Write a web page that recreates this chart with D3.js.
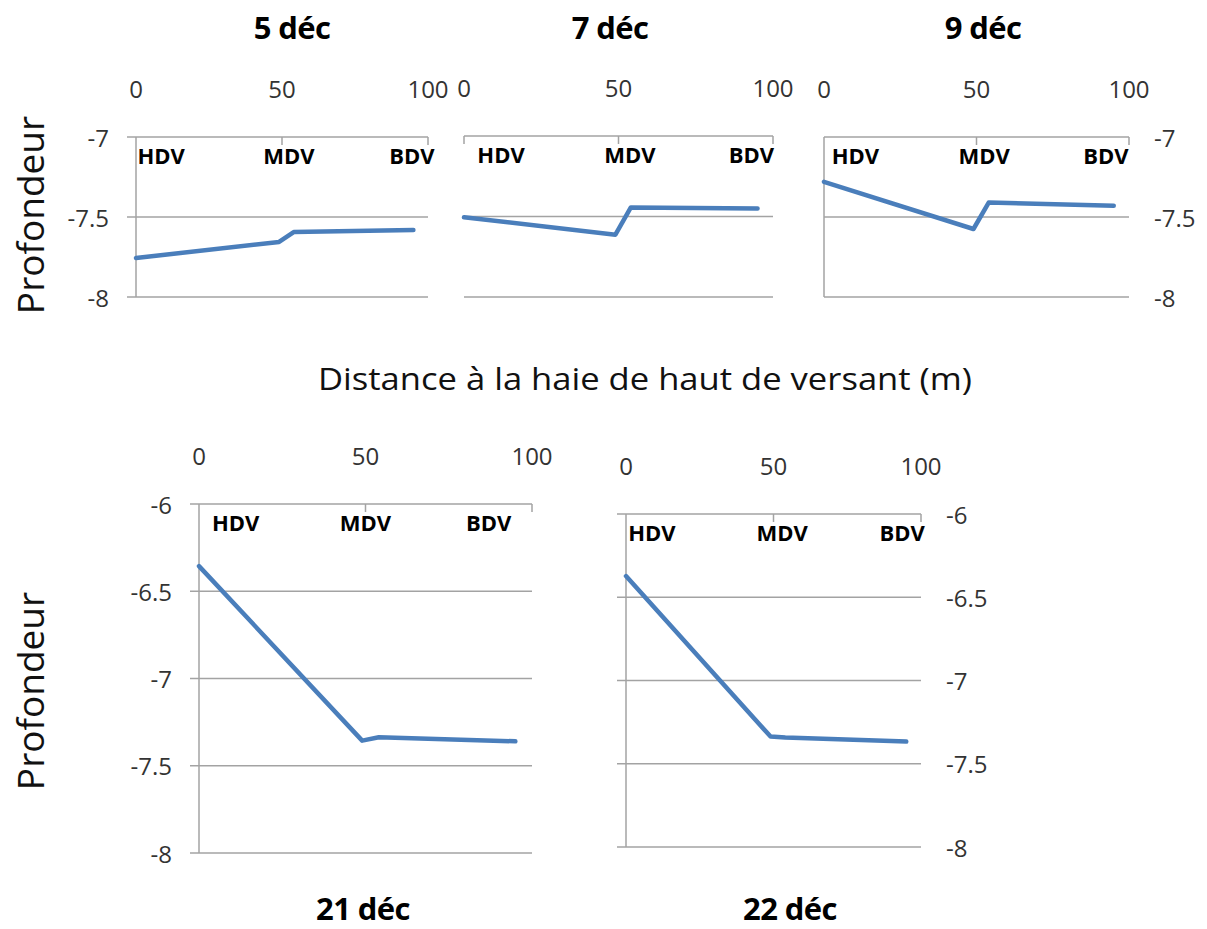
<!DOCTYPE html>
<html><head><meta charset="utf-8">
<script src="https://cdn.jsdelivr.net/npm/d3@7/dist/d3.min.js"></script>
<style>
body{margin:0;background:#fff}
text{font-family:"Open Sans","Noto Sans",sans-serif}
</style>
</head><body>
<svg id="c" width="1207" height="929"></svg>
<script>
// ---- data ----
const dates = ["5 déc", "7 déc", "9 déc", "21 déc", "22 déc"];
const distances = [0, 49, 54, 95];
const depth5dec  = [-7.756, -7.656, -7.594, -7.581];
const depth7dec  = [-7.505, -7.613, -7.444, -7.450];
const depth9dec  = [-7.280, -7.575, -7.410, -7.430];
const depth21dec = [-6.356, -7.356, -7.337, -7.360];
const depth22dec = [-6.373, -7.337, -7.343, -7.367];
const xTicks = [0, 50, 100];
const yTicksTop = [-7, -7.5, -8];
const yTicksBottom = [-6, -6.5, -7, -7.5, -8];
const siteLabels = ["HDV", "MDV", "BDV"];
const siteLabelX = [[8.6, 52.4, 94.5], [12, 53.7, 93], [10.3, 52.5, 92.4], [11, 50, 87], [8.8, 52.9, 93.6]];
const xAxisTitle = "Distance à la haie de haut de versant (m)";
const yAxisTitle = "Profondeur";

const series = [depth5dec, depth7dec, depth9dec, depth21dec, depth22dec];
const yTickSets = [yTicksTop, yTicksTop, yTicksTop, yTicksBottom, yTicksBottom];

// ---- layout (styles/positions) ----
const layout = [
  {x0:136, x1:428, y0:137, y1:297, side:"left",  leftLine:true,  leftTicks:true,  tx:292, ty:39},
  {x0:464, x1:773, y0:136, y1:297, side:"none",  leftLine:false, leftTicks:false, tx:610, ty:39},
  {x0:824, x1:1129,y0:137, y1:297, side:"right", leftLine:true,  leftTicks:false, tx:983, ty:39},
  {x0:199, x1:532, y0:504, y1:853, side:"left",  leftLine:true,  leftTicks:true,  tx:363, ty:920},
  {x0:626, x1:921, y0:514, y1:847, side:"right", leftLine:true,  leftTicks:true,  tx:790, ty:920}
];

const svg = d3.select("#c");
const gridCol = "#a3a3a3";
const lineCol = "#4a7ebb";
const tickCol = "#333333";

layout.forEach((L, i) => {
  const ticks = yTickSets[i];
  const x = d3.scaleLinear().domain([0, 100]).range([L.x0, L.x1]);
  const y = d3.scaleLinear().domain(d3.extent(ticks)).range([L.y1, L.y0]);
  const g = svg.append("g");
  const gx0 = L.leftTicks ? L.x0 - 9 : L.x0;

  // horizontal gridlines (the top one acts as the x axis line)
  g.selectAll("line.grid").data(ticks).join("line")
    .attr("x1", gx0).attr("x2", L.x1)
    .attr("y1", d => y(d)).attr("y2", d => y(d))
    .attr("stroke", gridCol).attr("stroke-width", 1.5);

  // x axis ticks (pointing down from top line)
  g.selectAll("line.xt").data(xTicks.filter(t => !(L.leftLine && t === 0))).join("line")
    .attr("x1", d => x(d)).attr("x2", d => x(d))
    .attr("y1", L.y0).attr("y2", L.y0 + 8)
    .attr("stroke", gridCol).attr("stroke-width", 1.5);

  // left axis line
  if (L.leftLine) {
    g.append("line").attr("x1", L.x0).attr("x2", L.x0)
      .attr("y1", L.y0).attr("y2", L.y1)
      .attr("stroke", gridCol).attr("stroke-width", 1.5);
  }

  // x tick labels
  g.selectAll("text.xl").data(xTicks).join("text")
    .attr("x", d => x(d)).attr("y", L.y0 - 49)
    .attr("text-anchor", "middle").attr("dominant-baseline", "central")
    .attr("font-size", 24).attr("fill", tickCol)
    .text(d => d);

  // y tick labels
  if (L.side !== "none") {
    g.selectAll("text.yl").data(ticks).join("text")
      .attr("x", L.side === "left" ? L.x0 - 27 : L.x1 + 25)
      .attr("y", d => y(d))
      .attr("text-anchor", L.side === "left" ? "end" : "start")
      .attr("dominant-baseline", "central")
      .attr("font-size", 24).attr("fill", tickCol)
      .text(d => d);
  }

  // data line
  const line = d3.line().x(d => x(d[0])).y(d => y(d[1]));
  g.append("path")
    .datum(distances.map((d, k) => [d, series[i][k]]))
    .attr("d", line)
    .attr("fill", "none").attr("stroke", lineCol)
    .attr("stroke-width", 4.5).attr("stroke-linejoin", "round").attr("stroke-linecap", "round");

  // site labels
  g.selectAll("text.sl").data(siteLabels).join("text")
    .attr("x", (d, k) => x(siteLabelX[i][k]))
    .attr("y", L.y0 + 18)
    .attr("text-anchor", "middle").attr("dominant-baseline", "central")
    .attr("font-size", 22).attr("font-weight", "bold").attr("fill", "#000")
    .text(d => d);

  // title (baseline-positioned)
  g.append("text").attr("x", L.tx).attr("y", L.ty)
    .attr("text-anchor", "middle")
    .attr("font-size", 31).attr("font-weight", "bold").attr("fill", "#000")
    .attr("letter-spacing", -0.6)
    .text(dates[i]);
});

// axis titles
svg.append("text").attr("x", 645).attr("y", 378)
  .attr("text-anchor", "middle").attr("dominant-baseline", "central")
  .attr("font-size", 31).attr("fill", "#111")
  .attr("textLength", 654).attr("lengthAdjust", "spacingAndGlyphs")
  .text(xAxisTitle);

[215, 691].forEach(cy => {
  svg.append("text")
    .attr("transform", `translate(29,${cy}) rotate(-90)`)
    .attr("text-anchor", "middle").attr("dominant-baseline", "central")
    .attr("font-size", 37).attr("fill", "#111").text(yAxisTitle);
});
</script>
</body></html>
